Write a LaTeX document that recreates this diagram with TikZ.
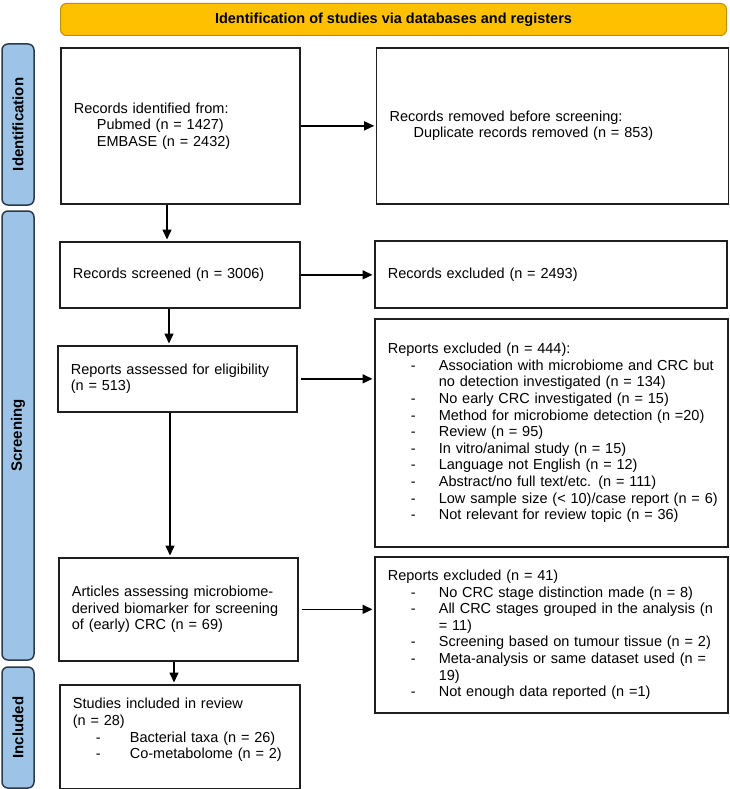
\documentclass[tikz,border=0pt]{standalone}
\usepackage{fontspec}
\setmainfont{Liberation Sans}
\usetikzlibrary{arrows.meta,positioning}

\definecolor{hdrfill}{HTML}{FFC000}
\definecolor{hdrline}{HTML}{BF9000}
\definecolor{phasefill}{HTML}{9DC3E6}
\definecolor{phaseline}{HTML}{2B3A4A}
\definecolor{boxline}{HTML}{1E1E1E}

% list item and its second line
\newcommand\itm[2][28pt]{\\\hspace*{23pt}\makebox[#1][l]{-}\mbox{#2}}
\newcommand\cont[1]{\\\hspace*{51pt}#1}

\begin{document}
\begin{tikzpicture}[x=1pt, y=-1pt, >={Triangle[length=10pt,width=9pt]}, node distance=75pt,
    record/.style={draw=boxline, line width=1.7pt, rectangle, align=left, anchor=north west,
                   inner xsep=13pt, inner ysep=0pt, text width=#1,
                   font=\fontsize{14.5}{16.6}\selectfont},
    hdr/.style={draw=hdrline, fill=hdrfill, line width=1pt, rounded corners=6pt, anchor=north west,
                minimum width=666pt, minimum height=32pt, font=\bfseries\fontsize{14.5}{16.6}\selectfont},
    phase/.style={draw=phaseline, fill=phasefill, line width=1.5pt, rounded corners=6pt, rotate=90,
                  minimum height=32pt, inner sep=0pt, font=\bfseries\fontsize{15}{16}\selectfont},
    flow/.style={->, line width=1.5pt, shorten >=1.5pt}]
    \useasboundingbox (0,0) rectangle (729,789);

    \node[hdr]                               (hdr) at (60,3)    {Identification of studies via databases and registers};
    \node[phase, minimum width=161pt]        (phId)  at (18,124.5) {Identification};
    \node[phase, minimum width=449pt]        (phScr) at (18,435.5) {Screening};
    \node[phase, minimum width=121pt]        (phInc) at (18,727.5) {Included};

    \node[record=213pt, minimum height=156pt] (id)  at (60,47)  {Records identified from:\\
        \hspace*{23pt}Pubmed (n = 1427)\\\hspace*{23pt}EMBASE (n = 2432)};
    \node[record=326pt, minimum height=156pt] (rem) [right=75pt of id] {Records removed before screening:\\
        \hspace*{24pt}Duplicate records removed (n = 853)};
    \node[record=214pt, minimum height=66pt]  (scr) at (59,241) {Records screened (n = 3006)};
    \node[record=326pt, minimum height=67pt]  (ex1) at (374,240) {Records excluded (n = 2493)};
    \node[record=213pt, minimum height=66pt]  (asr) at (57,345) {Reports assessed for eligibility\\(n = 513)};
    \node[record=327pt, minimum height=228pt] (ex2) at (374,318) {Reports excluded (n = 444):
        \itm{Association with microbiome and CRC but}\cont{no detection investigated (n = 134)}
        \itm{No early CRC investigated (n = 15)}
        \itm{Method for microbiome detection (n =20)}
        \itm{Review (n = 95)}
        \itm{In vitro/animal study (n = 15)}
        \itm{Language not English (n = 12)}
        \itm{Abstract/no full text/etc. (n = 111)}
        \itm{Low sample size (< 10)/case report (n = 6)}
        \itm{Not relevant for review topic (n = 36)}};
    \node[record=213pt, minimum height=103pt] (art) at (58,557) {Articles assessing microbiome-\\
        derived biomarker for screening\\of (early) CRC (n = 69)};
    \node[record=327pt, minimum height=156pt] (ex3) at (374,556) {Reports excluded (n = 41)
        \itm{No CRC stage distinction made (n = 8)}
        \itm{All CRC stages grouped in the analysis (n}\cont{= 11)}
        \itm{Screening based on tumour tissue (n = 2)}
        \itm{Meta-analysis or same dataset used (n =}\cont{19)}
        \itm{Not enough data reported (n =1)}};
    \node[record=214pt, minimum height=104pt] (inc) at (59,684) {Studies included in review\\(n = 28)
        \itm[34pt]{Bacterial taxa (n = 26)}\itm[34pt]{Co-metabolome (n = 2)}\\\mbox{}};

    \draw[flow] ([xshift=107pt]id.south west)  coordinate (d1) -- (d1 |- scr.north);
    \draw[flow] ([xshift=110pt]scr.south west) coordinate (d2) -- (d2 |- asr.north);
    \draw[flow] ([xshift=113pt]asr.south west) coordinate (d3) -- (d3 |- art.north);
    \draw[flow] ([xshift=116pt]art.south west) coordinate (d4) -- (d4 |- inc.north);

    \draw[flow] (id.east) -- (rem.west);
    \draw[flow] (scr.east) -- (scr.east -| ex1.west);
    \draw[flow] ([xshift=3pt]asr.east) -- (asr.east -| ex2.west);
    \draw[flow] ([xshift=3pt]art.east) -- (art.east -| ex3.west);
\end{tikzpicture}
\end{document}
